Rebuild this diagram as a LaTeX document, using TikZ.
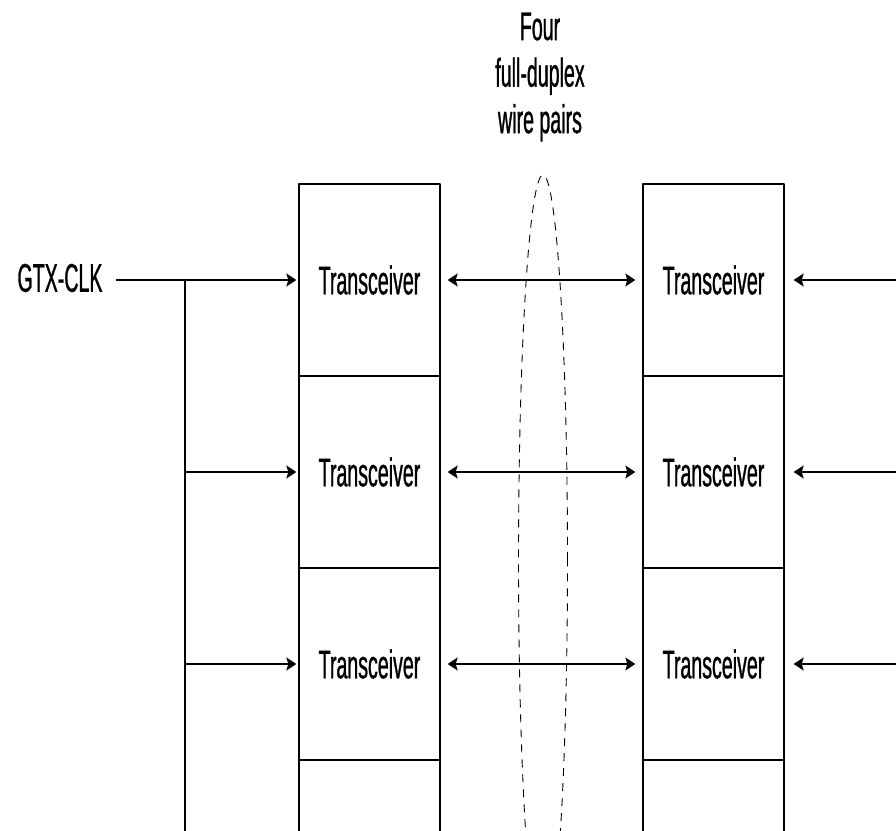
\documentclass[tikz,border=0pt]{standalone}
\usepackage{fontspec}
\setmainfont{Liberation Sans}[FakeStretch=0.49,FakeBold=0.8]
\usetikzlibrary{arrows.meta,shapes.geometric}
\tikzset{
  xcvr/.style={draw,line width=1.3bp,minimum width=141bp,minimum height=192bp,inner sep=0pt},
  wire/.style={line width=1.3bp},
}
\begin{document}
\begin{tikzpicture}[>={Stealth[length=10bp,width=13bp,inset=2bp]},line join=bevel,font=\fontsize{40bp}{46.5bp}\selectfont]
\clip (0bp,0bp) rectangle (896bp,831bp);
\useasboundingbox (0bp,0bp) rectangle (896bp,831bp);
%%
\node (xl_0) at (369.5bp,551bp) [xcvr] {Transceiver};
  \node (xl_1) at (369.5bp,359bp) [xcvr] {Transceiver};
  \node (xl_2) at (369.5bp,167bp) [xcvr] {Transceiver};
  \node (xl_3) at (369.5bp,-25bp) [xcvr] {};
\node (xr_0) at (713.5bp,551bp) [xcvr] {Transceiver};
  \node (xr_1) at (713.5bp,359bp) [xcvr] {Transceiver};
  \node (xr_2) at (713.5bp,167bp) [xcvr] {Transceiver};
  \node (xr_3) at (713.5bp,-25bp) [xcvr] {};
%
\node (gtx) at (60bp,553bp) [inner xsep=13bp,inner ysep=0pt] {GTX-CLK};
\node (pairs) at (540bp,754bp) [align=center] {Four\\full-duplex\\wire pairs};
\node (bundle) at (543bp,271bp) [draw,dashed,dash pattern=on 8bp off 7bp,line width=0.9bp,ellipse,minimum width=49bp,minimum height=770bp,inner sep=0pt] {};
%
\coordinate (tap_0) at (185bp,551bp);
\coordinate (tap_1) at (185bp,359bp);
\coordinate (tap_2) at (185bp,167bp);
\coordinate (tap_end) at (185bp,-5bp);
\coordinate (rin_0) at (900bp,551bp);
\coordinate (rin_1) at (900bp,359bp);
\coordinate (rin_2) at (900bp,167bp);
%
\draw [wire,->,shorten >=2bp] (gtx.east |- xl_0) -- (xl_0);
\draw [wire] (tap_0) -- (tap_end);
\draw [wire,->,shorten >=2bp] (tap_1) -- (xl_1);
\draw [wire,->,shorten >=2bp] (tap_2) -- (xl_2);
\foreach \i in {0,1,2} {
  \draw [wire,<->,shorten <=7bp,shorten >=7bp] (xl_\i) -- (xr_\i);
  \draw [wire,->,shorten >=9bp] (rin_\i) -- (xr_\i);
}
%
\end{tikzpicture}
\end{document}
